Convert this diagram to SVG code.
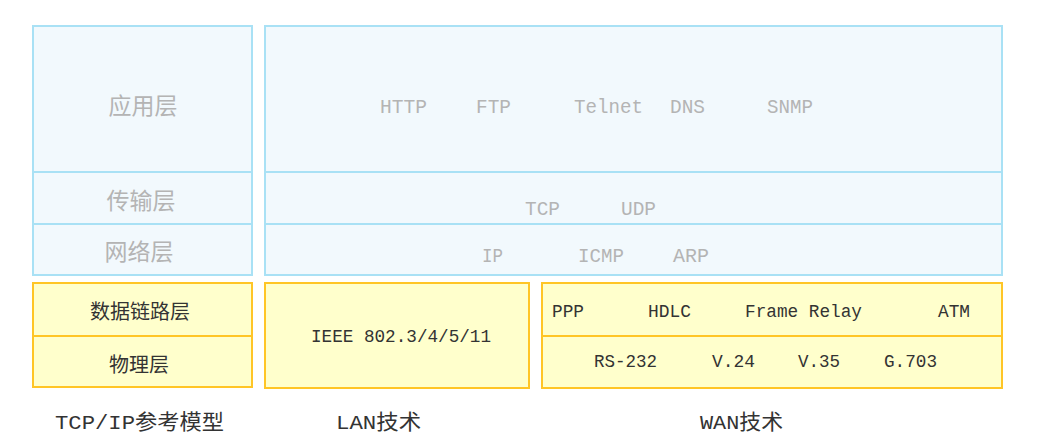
<svg xmlns="http://www.w3.org/2000/svg" width="1039" height="447" viewBox="0 0 1039 447">
<style>
.blue{fill:#f2f9fd;stroke:#a9e1f5;stroke-width:2}
.bline{stroke:#a9e1f5;stroke-width:2}
.yel{fill:#ffffcc;stroke:#ffc526;stroke-width:2}
.yline{stroke:#ffc526;stroke-width:2}
text{font-family:"Liberation Mono","Noto Sans CJK SC",monospace;dominant-baseline:central}
.g{fill:#b4b4b4;font-size:21px}
.gc{fill:#b4b4b4;font-size:23px;font-family:"Noto Sans CJK SC",sans-serif;text-anchor:middle}
.k{fill:#333333;font-size:19px}
.kc{fill:#333333;font-size:20px;font-family:"Noto Sans CJK SC",sans-serif;text-anchor:middle}
.lab{fill:#333333;font-size:21px}
</style>
<rect width="1039" height="447" fill="#ffffff"/>
<g id="tcpip-upper">
<rect class="blue" x="33" y="26" width="219" height="249"/>
<line class="bline" x1="33" y1="172" x2="252" y2="172"/>
<line class="bline" x1="33" y1="224" x2="252" y2="224"/>
<text class="gc" x="143" y="104">应用层</text>
<text class="gc" x="141" y="199">传输层</text>
<text class="gc" x="139" y="250">网络层</text>
</g>
<g id="protocols">
<rect class="blue" x="265" y="26" width="737" height="249"/>
<line class="bline" x1="265" y1="172" x2="1002" y2="172"/>
<line class="bline" x1="265" y1="224" x2="1002" y2="224"/>
<text class="g" x="380" y="107" textLength="47" lengthAdjust="spacingAndGlyphs">HTTP</text>
<text class="g" x="476" y="107" textLength="35" lengthAdjust="spacingAndGlyphs">FTP</text>
<text class="g" x="574" y="107" textLength="69" lengthAdjust="spacingAndGlyphs">Telnet</text>
<text class="g" x="670" y="107" textLength="35" lengthAdjust="spacingAndGlyphs">DNS</text>
<text class="g" x="767" y="107" textLength="46" lengthAdjust="spacingAndGlyphs">SNMP</text>
<text class="g" x="525" y="209" textLength="35" lengthAdjust="spacingAndGlyphs">TCP</text>
<text class="g" x="621" y="209" textLength="35" lengthAdjust="spacingAndGlyphs">UDP</text>
<text class="g" x="482" y="256" textLength="21" lengthAdjust="spacingAndGlyphs">IP</text>
<text class="g" x="578" y="256" textLength="46" lengthAdjust="spacingAndGlyphs">ICMP</text>
<text class="g" x="673" y="256" textLength="36" lengthAdjust="spacingAndGlyphs">ARP</text>
</g>
<g id="tcpip-lower">
<rect class="yel" x="33" y="283" width="219" height="104"/>
<line class="yline" x1="33" y1="336" x2="252" y2="336"/>
<text class="kc" x="140" y="310">数据链路层</text>
<text class="kc" x="139" y="363">物理层</text>
</g>
<g id="lan">
<rect class="yel" x="265" y="283" width="264" height="105"/>
<text class="k" x="311" y="337" textLength="180" lengthAdjust="spacingAndGlyphs">IEEE 802.3/4/5/11</text>
</g>
<g id="wan">
<rect class="yel" x="542" y="283" width="460" height="105"/>
<line class="yline" x1="542" y1="336" x2="1002" y2="336"/>
<text class="k" x="552" y="312" textLength="32" lengthAdjust="spacingAndGlyphs">PPP</text>
<text class="k" x="648" y="312" textLength="43" lengthAdjust="spacingAndGlyphs">HDLC</text>
<text class="k" x="745" y="312" textLength="117" lengthAdjust="spacingAndGlyphs">Frame Relay</text>
<text class="k" x="938" y="312" textLength="32" lengthAdjust="spacingAndGlyphs">ATM</text>
<text class="k" x="594" y="362" textLength="63" lengthAdjust="spacingAndGlyphs">RS-232</text>
<text class="k" x="712" y="362" textLength="43" lengthAdjust="spacingAndGlyphs">V.24</text>
<text class="k" x="798" y="362" textLength="42" lengthAdjust="spacingAndGlyphs">V.35</text>
<text class="k" x="884" y="362" textLength="53" lengthAdjust="spacingAndGlyphs">G.703</text>
</g>
<g id="captions">
<text class="lab" x="55" y="423" textLength="169" lengthAdjust="spacingAndGlyphs">TCP/IP参考模型</text>
<text class="lab" x="336" y="423" textLength="85" lengthAdjust="spacingAndGlyphs">LAN技术</text>
<text class="lab" x="700" y="423" textLength="83" lengthAdjust="spacingAndGlyphs">WAN技术</text>
</g>
<g id="connectors"></g>
</svg>
